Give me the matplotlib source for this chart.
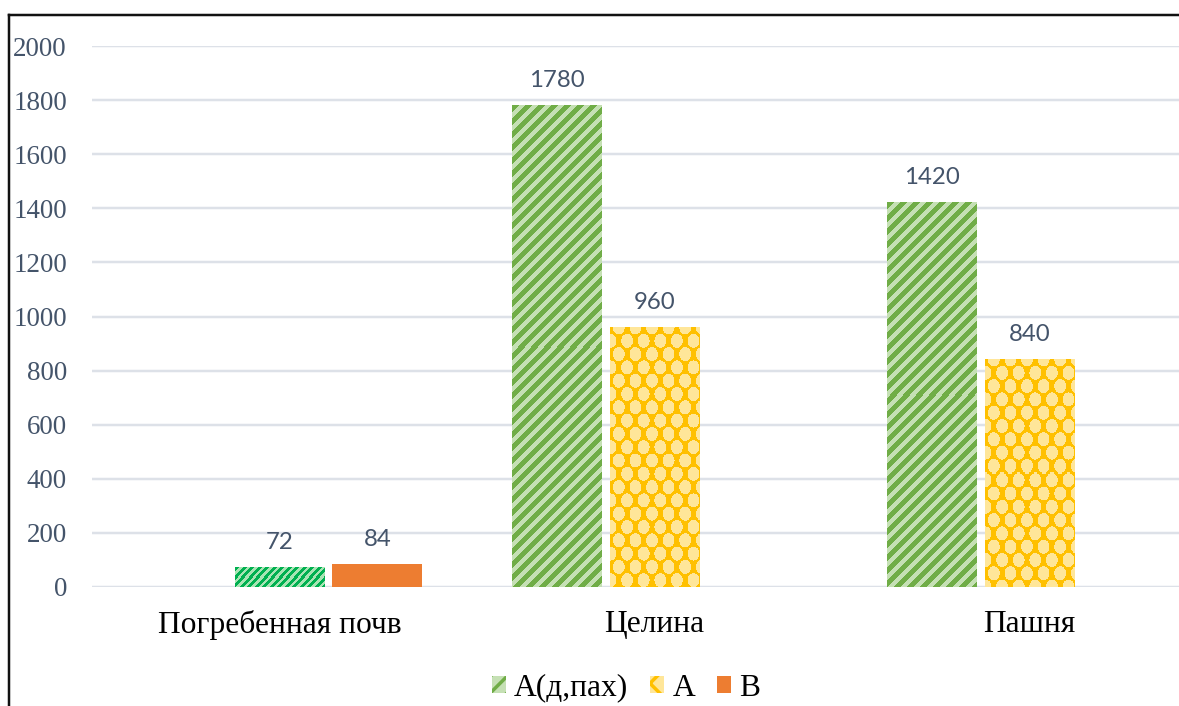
import matplotlib
matplotlib.use('Agg')
import matplotlib.pyplot as plt
from matplotlib.patches import Patch
from matplotlib.lines import Line2D
import numpy as np

PT = 0.72  # pixels -> points at dpi 100

categories = ['Погребенная почв', 'Целина', 'Пашня']
series_names = ['А(д,пах)', 'А', 'В']
a_dpah = [0, 1780, 1420]
a_hor = [72, 960, 840]
b_hor = [84, 0, 0]

txt_col = '#44546A'
grid_col = '#DDE1E8'


def hex_rgb(c):
    c = c.lstrip('#')
    return np.array([int(c[i:i + 2], 16) for i in (0, 2, 4)]) / 255.0


def stripes(h, w, period, dark, light):
    i, j = np.mgrid[0:h, 0:w]
    m = ((i + j) % period) < period / 2.0
    img = np.empty((h, w, 3))
    img[:] = hex_rgb(light)
    img[m] = hex_rgb(dark)
    return img


def dots(h, w, dark, light, cx=8.3, cy=13.3, rx=5.9, ry=7.0):
    # light dots on a checkerboard lattice, dark fill left in between
    i, j = np.mgrid[0:h, 0:w].astype(float)
    m = np.zeros((h, w), bool)
    for ox, oy in [(cx, 0.0), (0.0, cy)]:
        dx = (j - ox) % (2 * cx)
        dx = np.minimum(dx, 2 * cx - dx)
        dy = (i - oy) % (2 * cy)
        dy = np.minimum(dy, 2 * cy - dy)
        m |= (dx / rx) ** 2 + (dy / ry) ** 2 <= 1.0
    img = np.empty((h, w, 3))
    img[:] = hex_rgb(dark)
    img[m] = hex_rgb(light)
    return img


def texture(ax, rect, maker):
    bb = rect.get_window_extent()
    h, w = int(round(bb.height)), int(round(bb.width))
    if h < 1 or w < 1:
        return
    x0 = rect.get_x()
    ax.imshow(maker(h, w), extent=(x0, x0 + rect.get_width(), 0, rect.get_height()),
              origin='upper', interpolation='nearest', aspect='auto', zorder=3)


fig = plt.figure(figsize=(11.79, 7.06), dpi=100)
ax = fig.add_axes([92 / 1179, 1 - 587 / 706, 1125 / 1179, (587 - 46) / 706])

x = np.arange(len(categories))
w = 0.24
step = 0.2613

b1 = ax.bar(x - step, a_dpah, w, color='#C5E0B4', linewidth=0, zorder=2)
b2 = ax.bar(x, a_hor, w, color='#FFE699', linewidth=0, zorder=2)
b3 = ax.bar(x + step, b_hor, w, color='#ED7D31', linewidth=0, zorder=2)

ax.set_xlim(-0.5, 2.5)
ax.set_ylim(0, 2000)

# pattern fills
for rect in b1:
    texture(ax, rect, lambda h, w: stripes(h, w, 13, '#70AD47', '#C5E0B4'))
# first point of the А series is formatted separately (green stripes)
texture(ax, b2[0], lambda h, w: stripes(h, w, 7.5, '#00B050', '#A8E4B4'))
for rect in b2[1:]:
    texture(ax, rect, lambda h, w: dots(h, w, '#FFC000', '#FFE699'))

for bars, vals in [(b1, a_dpah), (b2, a_hor), (b3, b_hor)]:
    for rect, v in zip(bars, vals):
        if v == 0:
            continue
        ax.annotate(str(v), (rect.get_x() + rect.get_width() / 2, v),
                    xytext=(0, 25 * PT), textcoords='offset points',
                    ha='center', va='center', color=txt_col,
                    fontsize=24 * PT, family='Lato')

ax.set_xlim(-0.5, 2.5)
ax.set_ylim(0, 2000)
ax.set_yticks(np.arange(0, 2001, 200))
ax.grid(axis='y', color=grid_col, linewidth=2.5 * PT, zorder=0)
ax.set_axisbelow(True)
for s in ax.spines.values():
    s.set_visible(False)
ax.tick_params(axis='both', length=0)
ax.tick_params(axis='y', pad=25 * PT, labelcolor=txt_col, labelsize=27 * PT)
ax.tick_params(axis='x', pad=23 * PT, labelcolor='black', labelsize=31.5 * PT)
for lab in ax.get_yticklabels() + ax.get_xticklabels():
    lab.set_family('Liberation Serif')
ax.set_xticks(x)
ax.set_xticklabels(categories)

plt.rcParams['hatch.linewidth'] = 2.5
handles = [Patch(facecolor='#C5E0B4', edgecolor='#70AD47', hatch='//', linewidth=0),
           Patch(facecolor='#FFE699', edgecolor='#FFC000', hatch='x', linewidth=0),
           Patch(facecolor='#ED7D31', linewidth=0)]
fig.legend(handles, series_names, loc='center', ncol=3,
           bbox_to_anchor=(626 / 1179, 1 - 688 / 706), frameon=False,
           prop={'family': 'Liberation Serif', 'size': 31.5 * PT},
           handlelength=0.45, handleheight=0.45, handletextpad=0.25,
           columnspacing=0.7, borderpad=0.2)

# outer frame of the chart area
fig.add_artist(Line2D([9 / 1179, 9 / 1179], [0, 1 - 15 / 706], color='#111111',
                      linewidth=2.5 * PT, transform=fig.transFigure))
fig.add_artist(Line2D([9 / 1179, 1], [1 - 15 / 706, 1 - 15 / 706], color='#111111',
                      linewidth=2.5 * PT, transform=fig.transFigure))

fig.savefig('out.png', dpi=100)
